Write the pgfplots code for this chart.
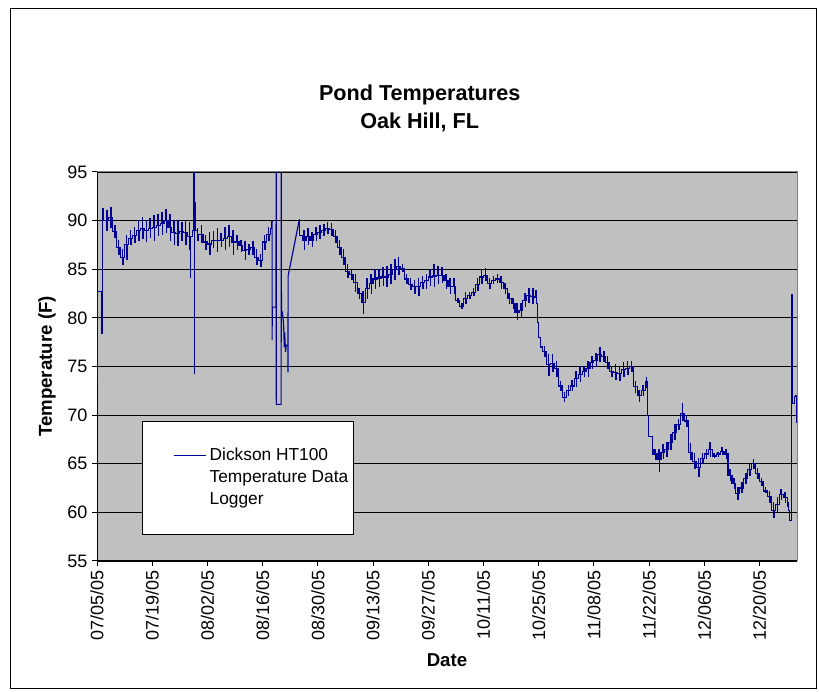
\documentclass[border=0pt]{standalone}
\usepackage{fontspec}
\setmainfont{Liberation Sans}
\usepackage{pgfplots}
\pgfplotsset{compat=1.18}
\definecolor{navyline}{HTML}{000094}
\definecolor{plotgray}{HTML}{C0C0C0}
\definecolor{bordergray}{HTML}{808080}
\begin{document}
\begin{tikzpicture}
\useasboundingbox (0,0) rectangle (614.25pt,519pt);
\draw[black, line width=0.75pt] (7.5pt,2.25pt) rectangle (612pt,512.25pt);
\begin{axis}[
  name=ax,
  at={(72.75pt,98.25pt)}, anchor=south west,
  scale only axis, width=525pt, height=291.75pt,
  xmin=0, xmax=177.5, ymin=55, ymax=95,
  axis background/.style={fill=plotgray},
  axis x line*=bottom, axis y line*=left,
  axis line style={-, black, line width=0.75pt},
  xtick={0,14,28,42,56,70,84,98,112,126,140,154,168},
  xticklabels={07/05/05,07/19/05,08/02/05,08/16/05,08/30/05,09/13/05,09/27/05,10/11/05,10/25/05,11/08/05,11/22/05,12/06/05,12/20/05},
  x tick label style={rotate=90, anchor=east},
  ytick={55,60,65,70,75,80,85,90,95},
  tick align=outside, major tick length=3.75pt,
  tick style={black, line width=0.75pt},
  ymajorgrids, grid style={black, line width=0.6pt},
  /pgf/number format/assume math mode=true,
  tick label style={font=\fontsize{13.5}{16}\selectfont},
  xlabel={Date}, ylabel={Temperature (F)},
  label style={font=\bfseries\fontsize{14}{16}\selectfont},
  xlabel style={at={(axis description cs:0.5,-0.2545)}, anchor=center},
  ylabel style={at={(axis description cs:-0.0714,0.5)}, anchor=center},
  title={Pond Temperatures\\Oak Hill, FL},
  title style={align=center, font=\bfseries\fontsize{16.2}{20.5}\selectfont, at={(axis description cs:0.461,1.1427)}, anchor=center},
  legend cell align=left,
  legend image code/.code={\path (0pt,0pt); \draw[#1, draw=navyline, line width=0.85pt] (21.5pt,0pt) -- (45.5pt,0pt);},
  legend style={at={(axis description cs:0.0643,0.36)}, anchor=north west, draw=black, fill=white, line width=0.75pt,
    font=\fontsize{13}{15}\selectfont, inner xsep=2pt, inner ysep=17.5pt, row sep=0pt,
    nodes={inner sep=2pt, text height=9.5pt, text depth=3pt}},
]
\addplot[const plot, navyline, line width=0.85pt] coordinates {
(0,82.7) (0.04,73.5) (0.1,82.7) (1.25,78.4) (1.35,91.2) (1.6,90.0)
(2,90.0)(2.45,91.0)(2.55,89.0)(2.65,90.0)
(3,90.3)(3.45,91.3)(3.55,89.3)(3.65,90.3)
(4,88.9)(4.45,89.5)(4.55,88.3)(4.65,88.9)
(5,87.2)(5.45,88.0)(5.55,86.5)(5.65,87.2)
(6,86.2)(6.45,87.0)(6.55,85.5)(6.65,86.2)
(7,87.5)(7.45,88.5)(7.55,86.0)(7.65,87.5)
(8,88.2)(8.45,89.0)(8.55,87.5)(8.65,88.2)
(9,88.5)(9.45,89.3)(9.55,87.8)(9.65,88.5)
(10,89.0)(10.45,90.0)(10.55,88.0)(10.65,89.0)
(11,89.2)(11.45,90.3)(11.55,88.2)(11.65,89.2)
(12,89.0)(12.45,90.0)(12.55,87.9)(12.65,89.0)
(13,89.2)(13.45,90.2)(13.55,88.3)(13.65,89.2)
(14,89.3)(14.45,90.5)(14.55,88.0)(14.65,89.3)
(15,89.5)(15.45,90.6)(15.55,88.5)(15.65,89.5)
(16,89.7)(16.45,90.8)(16.55,88.6)(16.65,89.7)
(17,90.0)(17.45,91.1)(17.55,88.8)(17.65,90.0)
(18,89.3)(18.45,90.6)(18.55,88.0)(18.65,89.3)
(19,88.8)(19.45,90.0)(19.55,87.5)(19.65,88.8)
(20,88.7)(20.45,90.0)(20.55,87.4)(20.65,88.7)
(21,88.9)(21.45,89.8)(21.55,88.0)(21.65,88.9)
(22,88.8)(22.45,90.0)(22.55,87.6)(22.65,88.8)
(23,88.4)(23.45,89.8)(23.55,87.0)(23.65,84.2)(23.75,88.4)
(24.2,89.0)(24.6,100)(24.66,76.5)(24.74,74.3)(24.82,91.9)(24.95,89.0)
(25.45,89.2)(25.55,88.0)(25.65,88.6)
(26,88.6)(26.45,89.5)(26.55,87.8)(26.65,88.6)
(27,87.8)(27.45,88.5)(27.55,87.0)(27.65,87.8)
(28,87.6)(28.45,88.8)(28.55,86.5)(28.65,87.6)
(29,88.0)(29.45,88.9)(29.55,87.2)(29.65,88.0)
(30,88.0)(30.45,89.2)(30.55,86.8)(30.65,88.0)
(31,88.0)(31.45,88.7)(31.55,87.3)(31.65,88.0)
(32,88.2)(32.45,89.3)(32.55,87.0)(32.65,88.2)
(33,88.4)(33.45,89.5)(33.55,87.3)(33.65,88.4)
(34,87.8)(34.45,89.0)(34.55,86.5)(34.65,87.8)
(35,87.8)(35.45,88.5)(35.55,87.0)(35.65,87.8)
(36,87.4)(36.45,88.0)(36.55,86.8)(36.65,87.4)
(37,86.9)(37.45,87.8)(37.55,86.0)(37.65,86.9)
(38,87.0)(38.45,87.5)(38.55,86.5)(38.65,87.0)
(39,87.2)(39.45,87.8)(39.55,86.5)(39.65,87.2)
(40,86.2)(40.45,87.0)(40.55,85.5)(40.65,86.2)
(41,85.9)(41.45,86.5)(41.55,85.3)(41.65,85.9)
(42,87.8)(42.45,88.5)(42.55,87.0)(42.65,87.8)
(43,88.6)(43.45,89.3)(43.55,88.0)(43.65,88.6)
(44,89.2)(44.25,89.9)(44.4,89.9)
};
\addlegendentry{Dickson HT100}
\addlegendimage{empty legend}
\addlegendentry{Temperature Data}
\addlegendimage{empty legend}
\addlegendentry{Logger}
\addplot[sharp plot, navyline, line width=0.85pt, forget plot] coordinates {
(44.4,89.9) (44.4,77.7) (44.45,81.1) (45.4,81.1) (45.42,110) (45.47,71.1) (46.7,71.1) (46.72,110) (46.77,80.6)
(47.0,80.6) (47.3,79.5) (47.5,77.0) (47.6,78.5) (47.8,76.5) (48.0,77.2) (48.4,77.2) (48.43,74.4) (48.46,84.3) (51.3,90.1)
};
\addplot[const plot, navyline, line width=0.85pt, forget plot] coordinates {
(51.3,90.1)(51.4,88.5)
(52,88.0)(52.45,89.0)(52.55,87.0)(52.65,88.0)
(53,88.4)(53.45,89.2)(53.55,87.5)(53.65,88.4)
(54,88.0)(54.45,88.8)(54.55,87.3)(54.65,88.0)
(55,88.6)(55.45,89.3)(55.55,88.0)(55.65,88.6)
(56,88.8)(56.45,89.5)(56.55,88.2)(56.65,88.8)
(57,89.0)(57.45,89.6)(57.55,88.5)(57.65,89.0)
(58,89.2)(58.45,89.8)(58.55,88.7)(58.65,89.2)
(59,89.1)(59.45,89.7)(59.55,88.5)(59.65,89.1)
(60,88.4)(60.45,89.0)(60.55,87.8)(60.65,88.4)
(61,87.2)(61.45,88.0)(61.55,86.5)(61.65,87.2)
(62,86.2)(62.45,87.0)(62.55,85.5)(62.65,86.2)
(63,84.8)(63.45,85.5)(63.55,84.2)(63.65,84.8)
(64,84.5)(64.45,85.0)(64.55,84.0)(64.65,84.5)
(65,83.6)(65.45,84.5)(65.55,82.7)(65.65,83.6)
(66,82.5)(66.45,83.0)(66.55,82.0)(66.65,82.5)
(67,81.6)(67.45,82.7)(67.55,80.5)(67.65,81.6)
(68,83.0)(68.45,84.0)(68.55,82.0)(68.65,83.0)
(69,83.5)(69.45,84.5)(69.55,82.5)(69.65,83.5)
(70,84.0)(70.45,85.0)(70.55,83.0)(70.65,84.0)
(71,84.1)(71.45,85.0)(71.55,83.2)(71.65,84.1)
(72,84.2)(72.45,85.2)(72.55,83.3)(72.65,84.2)
(73,84.2)(73.45,85.3)(73.55,83.2)(73.65,84.2)
(74,84.5)(74.45,85.5)(74.55,83.5)(74.65,84.5)
(75,85.0)(75.45,86.0)(75.55,84.0)(75.65,85.0)
(76,85.3)(76.45,86.2)(76.55,84.5)(76.65,85.3)
(77,85.1)(77.45,85.5)(77.55,84.8)(77.65,85.1)
(78,84.0)(78.45,84.5)(78.55,83.5)(78.65,84.0)
(79,83.4)(79.45,84.0)(79.55,82.9)(79.65,83.4)
(80,83.2)(80.45,83.8)(80.55,82.5)(80.65,83.2)
(81,83.2)(81.45,84.0)(81.55,82.3)(81.65,83.2)
(82,83.6)(82.45,84.2)(82.55,83.0)(82.65,83.6)
(83,83.8)(83.45,84.5)(83.55,83.0)(83.65,83.8)
(84,84.2)(84.45,85.0)(84.55,83.3)(84.65,84.2)
(85,84.3)(85.45,85.5)(85.55,83.2)(85.65,84.3)
(86,84.4)(86.45,85.3)(86.55,83.5)(86.65,84.4)
(87,84.4)(87.45,85.2)(87.55,83.6)(87.65,84.4)
(88,83.8)(88.45,84.5)(88.55,83.0)(88.65,83.8)
(89,83.2)(89.45,84.0)(89.55,82.5)(89.65,83.2)
(90,83.2)(90.45,84.0)(90.55,82.5)(90.65,83.2)
(91,81.8)(91.45,82.0)(91.55,81.6)(91.65,81.8)
(92,81.2)(92.45,81.5)(92.55,81.0)(92.65,81.2)
(93,82.0)(93.45,82.6)(93.55,81.5)(93.65,82.0)
(94,82.3)(94.45,82.6)(94.55,82.0)(94.65,82.3)
(95,82.6)(95.45,83.0)(95.55,82.3)(95.65,82.6)
(96,83.4)(96.45,84.0)(96.55,82.8)(96.65,83.4)
(97,84.2)(97.45,85.0)(97.55,83.5)(97.65,84.2)
(98,84.4)(98.45,85.1)(98.55,83.8)(98.65,84.4)
(99,83.5)(99.45,84.0)(99.55,83.0)(99.65,83.5)
(100,83.8)(100.45,84.2)(100.55,83.5)(100.65,83.8)
(101,84.0)(101.45,84.5)(101.55,83.6)(101.65,84.0)
(102,83.6)(102.45,84.2)(102.55,83.0)(102.65,83.6)
(103,83.0)(103.45,83.5)(103.55,82.5)(103.65,83.0)
(104,82.0)(104.45,82.5)(104.55,81.5)(104.65,82.0)
(105,81.5)(105.45,82.0)(105.55,81.0)(105.65,81.5)
(106,80.6)(106.45,81.5)(106.55,79.8)(106.65,80.6)
(107,80.8)(107.45,81.5)(107.55,80.0)(107.65,80.8)
(108,81.8)(108.45,82.5)(108.55,81.2)(108.65,81.8)
(109,82.3)(109.45,83.0)(109.55,81.6)(109.65,82.3)
(110,82.2)(110.45,83.0)(110.55,81.5)(110.65,82.2)
(111,82.1)(111.3,82.8)(111.4,81.5)(111.6,80.8)(111.8,79.5)(112,78.0)(112.5,77.0)
(113,76.5)(113.45,77.0)(113.55,76.0)(113.65,76.5)
(114,75.2)(114.45,76.2)(114.55,74.1)(114.65,75.2)
(115,75.3)(115.45,76.2)(115.55,74.5)(115.65,75.3)
(116,74.8)(116.45,75.5)(116.55,74.0)(116.65,74.8)
(117,73.0)(117.45,73.5)(117.55,72.5)(117.65,73.0)
(118,71.8)(118.45,72.3)(118.55,71.4)(118.65,71.8)
(119,72.5)(119.45,73.0)(119.55,72.0)(119.65,72.5)
(120,73.0)(120.45,73.6)(120.55,72.5)(120.65,73.0)
(121,73.8)(121.45,74.5)(121.55,73.0)(121.65,73.8)
(122,74.2)(122.45,75.0)(122.55,73.5)(122.65,74.2)
(123,74.5)(123.45,75.0)(123.55,74.0)(123.65,74.5)
(124,74.8)(124.45,75.5)(124.55,74.0)(124.65,74.8)
(125,75.4)(125.45,76.0)(125.55,74.8)(125.65,75.4)
(126,75.6)(126.45,76.3)(126.55,75.0)(126.65,75.6)
(127,76.2)(127.45,76.9)(127.55,75.5)(127.65,76.2)
(128,76.0)(128.45,76.5)(128.55,75.5)(128.65,76.0)
(129,75.4)(129.45,76.0)(129.55,74.8)(129.65,75.4)
(130,74.5)(130.45,75.0)(130.55,74.0)(130.65,74.5)
(131,74.4)(131.45,75.2)(131.55,73.7)(131.65,74.4)
(132,74.3)(132.45,75.0)(132.55,73.6)(132.65,74.3)
(133,74.7)(133.45,75.4)(133.55,74.0)(133.65,74.7)
(134,74.8)(134.45,75.5)(134.55,74.2)(134.65,74.8)
(135,75.0)(135.45,75.5)(135.55,74.5)(135.65,75.0)
(136,72.9)(136.45,73.5)(136.55,72.3)(136.65,72.9)
(137,72.0)(137.45,72.5)(137.55,71.4)(137.65,72.0)
(138,72.5)(138.45,73.0)(138.55,72.0)(138.65,72.5)
(139,73.4)(139.3,73.9)(139.4,72.8)(139.5,73.4)(139.7,70.0)(139.8,67.8)(140.8,66.5)
(141,66.0)(141.45,66.5)(141.55,65.4)(141.65,66.0)
(142,65.4)(142.45,66.5)(142.55,64.2)(142.65,65.4)
(143,66.2)(143.45,67.0)(143.55,65.5)(143.65,66.2)
(144,66.5)(144.45,67.2)(144.55,65.8)(144.65,66.5)
(145,67.2)(145.45,68.0)(145.55,66.5)(145.65,67.2)
(146,68.2)(146.45,69.0)(146.55,67.5)(146.65,68.2)
(147,69.0)(147.45,69.5)(147.55,68.5)(147.65,69.0)
(148,70.2)(148.4,71.2)(148.5,69.5)(148.65,70.2)
(149,69.4)(149.45,70.0)(149.55,68.8)(149.65,69.4)
(150,66.2)(150.45,67.1)(150.55,65.4)(150.65,66.2)
(151,65.2)(151.45,66.0)(151.55,64.5)(151.65,65.2)
(152,64.6)(152.45,65.5)(152.55,63.7)(152.65,64.6)
(153,65.5)(153.45,66.0)(153.55,65.0)(153.65,65.5)
(154,66.0)(154.45,66.5)(154.55,65.5)(154.65,66.0)
(155,66.5)(155.45,67.2)(155.55,65.8)(155.65,66.5)
(156,65.8)(156.45,66.0)(156.55,65.6)(156.65,65.8)
(157,66.0)(157.45,66.2)(157.55,65.8)(157.65,66.0)
(158,66.3)(158.45,66.7)(158.55,66.0)(158.65,66.3)
(159,66.0)(159.45,66.5)(159.55,65.5)(159.65,66.0)
(160,63.8)(160.45,64.4)(160.55,63.3)(160.65,63.8)
(161,63.0)(161.45,63.5)(161.55,62.5)(161.65,63.0)
(162,61.9)(162.45,62.5)(162.55,61.3)(162.65,61.9)
(163,62.5)(163.45,63.1)(163.55,62.0)(163.65,62.5)
(164,63.5)(164.45,64.0)(164.55,63.0)(164.65,63.5)
(165,64.4)(165.45,65.0)(165.55,63.8)(165.65,64.4)
(166,65.0)(166.45,65.4)(166.55,64.5)(166.65,65.0)
(167,64.0)(167.45,64.5)(167.55,63.5)(167.65,64.0)
(168,63.2)(168.45,63.5)(168.55,62.8)(168.65,63.2)
(169,62.2)(169.45,62.5)(169.55,62.0)(169.65,62.2)
(170,61.6)(170.45,62.1)(170.55,61.0)(170.65,61.6)
(171,60.2)(171.45,61.0)(171.55,59.5)(171.65,60.2)
(172,60.8)(172.45,61.5)(172.55,60.0)(172.65,60.8)
(173,61.8)(173.45,62.3)(173.55,61.3)(173.65,61.8)
(174,61.5)(174.45,62.0)(174.55,61.0)(174.65,61.5)
(175,60.6)(175.3,61.0)(175.4,60.2)(175.7,59.2)(176.0,60.0)(176.2,82.4)(176.3,71.2)(176.8,71.9)(177.2,72.0)(177.35,69.2)(177.5,69.2)
};
\end{axis}
\draw[bordergray, line width=0.75pt] (ax.north west) -- (ax.north east) -- (ax.south east);
\end{tikzpicture}
\end{document}
